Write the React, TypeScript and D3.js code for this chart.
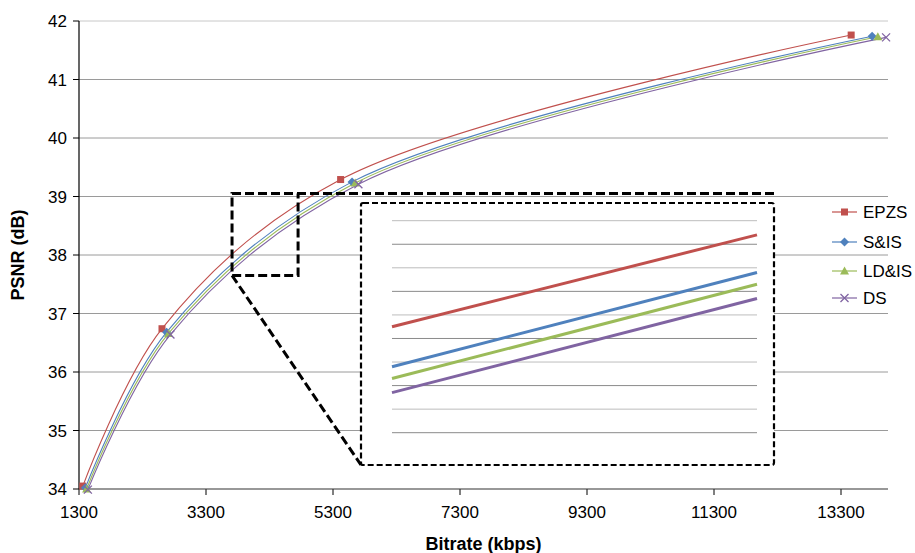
import React from 'react'
import * as d3 from 'd3'

// data
const seriesNames = ['EPZS', 'S&IS', 'LD&IS', 'DS']
const seriesColors = ['#c0504d', '#4f81bd', '#9bbb59', '#8064a2']
const seriesMarkers = ['square', 'diamond', 'triangle', 'cross']

const bitrateEPZS = [1360, 2607, 5420, 13460]
const psnrEPZS = [34.05, 36.74, 39.29, 41.76]
const bitrateSIS = [1400, 2680, 5600, 13790]
const psnrSIS = [34.02, 36.68, 39.25, 41.74]
const bitrateLDIS = [1420, 2710, 5650, 13880]
const psnrLDIS = [34.0, 36.66, 39.23, 41.73]
const bitrateDS = [1440, 2740, 5700, 14010]
const psnrDS = [33.99, 36.64, 39.21, 41.72]

const xTicks = [1300, 3300, 5300, 7300, 9300, 11300, 13300]
const yTicks = [34, 35, 36, 37, 38, 39, 40, 41, 42]

// magnified view (inset), start/end of each series
const insetBitrate = [3800, 4600]
const insetGrid = [37.7, 37.8, 37.9, 38.0, 38.1, 38.2, 38.3, 38.4, 38.5, 38.6]
const insetStart = [38.15, 37.98, 37.93, 37.87]
const insetEnd = [38.54, 38.38, 38.33, 38.27]

const width = 915
const height = 553
const margin = { left: 79, top: 21, right: 27, bottom: 64 }
const font = 'Liberation Sans, Arial, Helvetica, sans-serif'

const xScale = d3.scaleLinear().domain([1300, 14040]).range([margin.left, width - margin.right])
const yScale = d3.scaleLinear().domain([34, 42]).range([height - margin.bottom, margin.top])

const insetX = d3.scaleLinear().domain(insetBitrate).range([392, 757])
const insetY = d3.scaleLinear().domain([37.7, 38.6]).range([432.7, 220.7])

const allSeries = [
  { x: bitrateEPZS, y: psnrEPZS },
  { x: bitrateSIS, y: psnrSIS },
  { x: bitrateLDIS, y: psnrLDIS },
  { x: bitrateDS, y: psnrDS },
]

const line = d3
  .line<[number, number]>()
  .x(d => xScale(d[0]))
  .y(d => yScale(d[1]))
  .curve(d3.curveCatmullRom.alpha(0.5))

function Marker({ kind, x, y, color }: { kind: string; x: number; y: number; color: string }) {
  if (kind === 'square') {
    return <rect x={x - 3.5} y={y - 3.5} width={7} height={7} fill={color} />
  }
  if (kind === 'diamond') {
    return <path d={`M${x},${y - 4.5}L${x + 4.5},${y}L${x},${y + 4.5}L${x - 4.5},${y}Z`} fill={color} />
  }
  if (kind === 'triangle') {
    return <path d={`M${x},${y - 4.5}L${x + 4.5},${y + 3.5}L${x - 4.5},${y + 3.5}Z`} fill={color} />
  }
  return (
    <path
      d={`M${x - 4},${y - 4}L${x + 4},${y + 4}M${x - 4},${y + 4}L${x + 4},${y - 4}`}
      stroke={color}
      strokeWidth={1.3}
      fill="none"
    />
  )
}

function Axes() {
  const x0 = margin.left
  const x1 = width - margin.right
  const y0 = height - margin.bottom
  return (
    <g fontFamily={font} fill="#000">
      {yTicks.map(t => (
        <g key={t}>
          {t !== 34 && (
            <line x1={x0} x2={x1} y1={yScale(t)} y2={yScale(t)} stroke={t === 42 ? '#c8c8c8' : '#9a9a9a'} strokeWidth={1} />
          )}
          <line x1={x0 - 6} x2={x0} y1={yScale(t)} y2={yScale(t)} stroke="#000" />
          <text x={x0 - 12} y={yScale(t)} dy="0.36em" textAnchor="end" fontSize={17}>
            {t}
          </text>
        </g>
      ))}
      {xTicks.map(t => (
        <g key={t}>
          <line x1={xScale(t)} x2={xScale(t)} y1={y0} y2={y0 + 6} stroke="#000" />
          <text x={xScale(t)} y={y0 + 29} textAnchor="middle" fontSize={17}>
            {t}
          </text>
        </g>
      ))}
      <line x1={x0} x2={x0} y1={margin.top} y2={y0} stroke="#000" strokeWidth={1.2} />
      <line x1={x0} x2={x1} y1={y0} y2={y0} stroke="#333" strokeWidth={1.2} />
      <text x={(x0 + x1) / 2} y={550} textAnchor="middle" fontSize={18} fontWeight="bold">
        Bitrate (kbps)
      </text>
      <text
        transform={`translate(24, ${(margin.top + y0) / 2}) rotate(-90)`}
        textAnchor="middle"
        fontSize={18}
        fontWeight="bold"
      >
        PSNR (dB)
      </text>
    </g>
  )
}

function Curves() {
  return (
    <g>
      {allSeries.map((s, i) => {
        const pts = s.x.map((x, j) => [x, s.y[j]] as [number, number])
        return (
          <path key={i} d={line(pts) || ''} fill="none" stroke={seriesColors[i]} strokeWidth={1.1} />
        )
      })}
      {allSeries.map((s, i) => (
        <g key={i}>
          {s.x.map((x, j) => (
            <Marker key={j} kind={seriesMarkers[i]} x={xScale(x)} y={yScale(s.y[j])} color={seriesColors[i]} />
          ))}
        </g>
      ))}
    </g>
  )
}

function Inset() {
  // zoom frame around 3700-4750 kbps, 37.65-39.05 dB
  const bx0 = xScale(3710)
  const bx1 = xScale(4750)
  const by0 = yScale(39.05)
  const by1 = yScale(37.65)
  const ix0 = 361
  const ix1 = 774
  const iy0 = 203
  const iy1 = 465
  return (
    <g>
      <rect x={ix0} y={iy0} width={ix1 - ix0} height={iy1 - iy0} fill="#fff" />
      {insetGrid.map((g, i) => (
        <line
          key={g}
          x1={insetX(insetBitrate[0])}
          x2={insetX(insetBitrate[1])}
          y1={insetY(g)}
          y2={insetY(g)}
          stroke={i % 2 === 0 ? '#8a8a8a' : '#bdbdbd'}
          strokeWidth={1}
        />
      ))}
      {seriesNames.map((n, i) => (
        <line
          key={n}
          x1={insetX(insetBitrate[0])}
          x2={insetX(insetBitrate[1])}
          y1={insetY(insetStart[i])}
          y2={insetY(insetEnd[i])}
          stroke={seriesColors[i]}
          strokeWidth={3}
        />
      ))}
      <rect
        x={ix0}
        y={iy0}
        width={ix1 - ix0}
        height={iy1 - iy0}
        rx={2}
        fill="none"
        stroke="#000"
        strokeWidth={2.2}
        strokeDasharray="6 3"
      />
      <path
        d={`M${ix1},${by0}L${bx0},${by0}L${bx0},${by1}L${bx1},${by1}L${bx1},${by0}`}
        fill="none"
        stroke="#000"
        strokeWidth={3}
        strokeDasharray="9 4"
      />
      <path d={`M${bx0},${by1}L${ix0},${iy1}`} fill="none" stroke="#000" strokeWidth={3} strokeDasharray="9 4" />
    </g>
  )
}

function Legend() {
  const x = 832
  const ys = [212, 242, 271, 298]
  return (
    <g fontFamily={font}>
      {seriesNames.map((n, i) => (
        <g key={n}>
          <line x1={x} x2={x + 25} y1={ys[i]} y2={ys[i]} stroke={seriesColors[i]} strokeWidth={1.2} />
          <Marker kind={seriesMarkers[i]} x={x + 12.5} y={ys[i]} color={seriesColors[i]} />
          <text x={x + 31} y={ys[i]} dy="0.36em" fontSize={17} fill="#000">
            {n}
          </text>
        </g>
      ))}
    </g>
  )
}

export default function App() {
  return (
    <svg width={width} height={height} style={{ position: 'absolute', left: 0, top: 0, background: '#fff' }}>
      <rect width={width} height={height} fill="#fff" />
      <Axes />
      <Curves />
      <Inset />
      <Legend />
    </svg>
  )
}
